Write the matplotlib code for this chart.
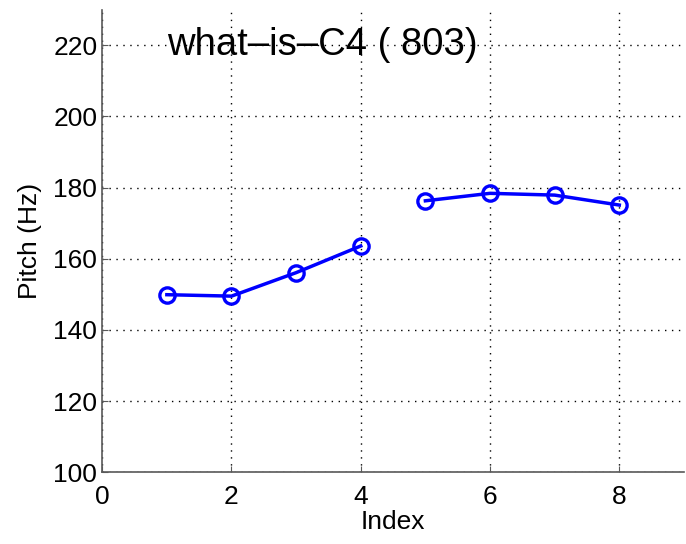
import numpy as np
import matplotlib.pyplot as plt

plt.rcParams['font.family'] = ['Liberation Sans', 'DejaVu Sans']

# two voiced segments of the pitch track
idx_a = [1, 2, 3, 4]
pitch_a = [149.9, 149.5, 156.1, 163.6]
idx_b = [5, 6, 7, 8]
pitch_b = [176.3, 178.4, 177.9, 175.1]

title_text = "what\u2013is\u2013C4 ( 803)"

fig = plt.figure(figsize=(6.86, 5.44), dpi=100)
ax = fig.add_axes([0.149, 0.132, 0.848, 0.85])

for xs, ys in [(idx_a, pitch_a), (idx_b, pitch_b)]:
    ax.plot(xs, ys, color=(0, 0, 1), lw=2.5, marker='o', ms=11,
            mfc='none', mec=(0, 0, 1), mew=2.4)

ax.set_xlim(0, 9)
ax.set_ylim(100, 230)
ax.set_xticks(np.arange(0, 9, 2))
ax.set_yticks(np.arange(100, 221, 20))
ax.grid(True, color='black', linestyle=(0, (1, 4)), linewidth=1)
ax.tick_params(direction='in', labelsize=19, length=4, color='0.35')
ax.tick_params(axis='x', pad=9)
for s in ['top', 'right']:
    ax.spines[s].set_visible(False)
for s in ['left', 'bottom']:
    ax.spines[s].set_color('0.35')
    ax.spines[s].set_linewidth(1.2)

ax.set_xlabel("Index", fontsize=19, labelpad=1)
ax.set_ylabel("Pitch (Hz)", fontsize=19, labelpad=8)
ax.text(1, 220, title_text, fontsize=27.5, va='center', ha='left')

fig.savefig("out.png", dpi=100)
